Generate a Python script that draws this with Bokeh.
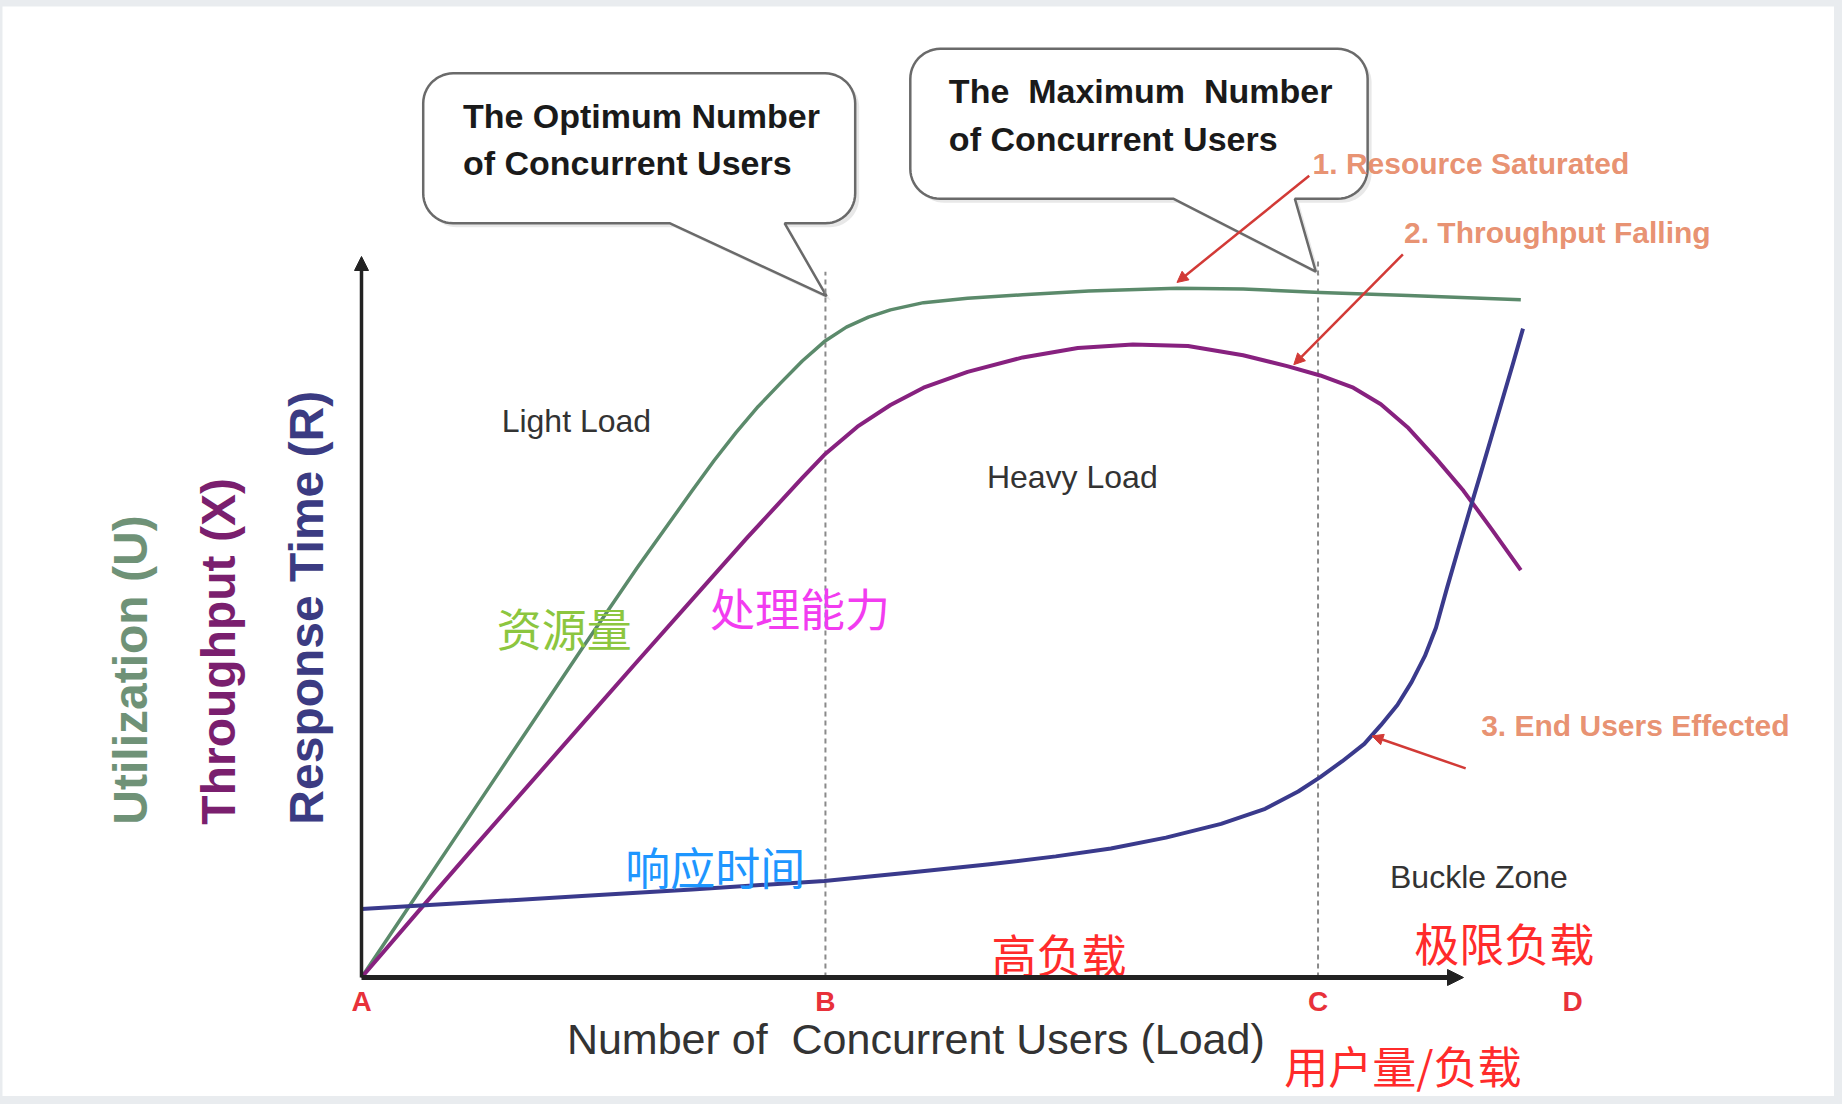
import numpy as np
from bokeh.plotting import figure
from bokeh.models import Range1d, Arrow, NormalHead
from bokeh.core.properties import value
from bokeh.embed import file_html
from bokeh.resources import INLINE

# ---------------- data (load in % of axis length, metric in % of axis height) ----------------
util_x = [0, 5, 10, 15, 20, 25, 30, 32, 34, 36, 38, 40, 42, 44, 46, 48, 51, 55, 60, 66, 74, 80,
          87, 95, 105.2]
util_y = [0, 11.4, 22.8, 34.2, 45.6, 56.8, 67.5, 71.7, 75.6, 79.2, 82.4, 85.5, 88.2, 90.2, 91.6,
          92.6, 93.6, 94.2, 94.7, 95.2, 95.6, 95.5, 95.0, 94.6, 94.0]

thr_x = [0, 5, 10, 15, 20, 25, 30, 35, 40, 42, 45, 48, 51, 55, 60, 65, 70, 75, 80, 84, 87, 90,
         92.5, 95, 97.5, 100, 102.5, 105.2]
thr_y = [0, 8.9, 17.7, 26.4, 35.1, 43.8, 52.4, 61.0, 69.3, 72.5, 76.4, 79.4, 81.8, 84.0, 86.0,
         87.3, 87.8, 87.6, 86.3, 84.8, 83.5, 81.8, 79.5, 76.2, 72.0, 67.5, 62.3, 56.5]

resp_x = [0, 10, 20, 30, 42, 50, 57, 63, 68, 73, 78, 82, 85, 87, 89, 91, 92.5, 94, 95.3, 96.5,
          97.5, 98.5, 99.5, 100.5, 101.5, 102.5, 103.5, 104.5, 105.4]
resp_y = [9.5, 10.4, 11.3, 12.2, 13.4, 14.6, 15.7, 16.8, 17.9, 19.4, 21.3, 23.4, 25.8, 27.8, 30.0,
          32.4, 35.0, 37.8, 41.0, 44.6, 48.5, 54.0, 59.3, 64.5, 69.6, 74.8, 80.0, 85.2, 90.0]

point_labels = ["A", "B", "C", "D"]
point_x = [0, 42.1, 86.8, 109.9]
marker_tops = [97.9, 99.8]          # dashed guides at B and C

axis_titles_y = ["Utilization (U)", "Throughput (X)", "Response Time (R)"]
axis_title_x = "Number of \u00a0Concurrent Users (Load)"

# ---------------- layout / style ----------------
W, H = 1834, 1096            # canvas incl. thin grey card edge at top/left
BT, BL = 6, 2                # grey edge (top, left)
FW, FH = W - BL, H - BT      # frame size
OX, OY = 359, 971            # origin inside the frame (from left / from top)
XU = (1461 - OX) / 100.0     # px per x unit
YU = (OY - 250) / 100.0      # px per y unit

GREEN, PURPLE, BLUE = "#5b8a6b", "#87217f", "#3a3a8c"
RED_ARROW, ORANGE, RED = "#d23a36", "#e5845f", "#ff2b2b"
FONT = "Liberation Sans"
CJK = "Noto Sans CJK SC"
EDGE = "#e9ecef"

p = figure(width=W, height=H, output_backend="svg", toolbar_location=None,
           x_range=Range1d(-OX / XU, (FW - OX) / XU),
           y_range=Range1d(-(FH - OY) / YU, OY / YU),
           x_axis_type=None, y_axis_type=None,
           min_border_top=BT, min_border_left=BL, min_border_right=0, min_border_bottom=0)
p.outline_line_color = None
p.background_fill_color = "white"
p.border_fill_color = EDGE


def callout(x0, x1, y0, y1, tl, tr, tip, r_px=30):
    rx, ry = r_px / XU, r_px / YU
    xs, ys = [], []
    corners = [(x0 + rx, y1 - ry, np.pi, np.pi / 2),
               (x1 - rx, y1 - ry, np.pi / 2, 0),
               (x1 - rx, y0 + ry, 0, -np.pi / 2)]
    for cx, cy, a0, a1 in corners:
        t = np.linspace(a0, a1, 14)
        xs += list(cx + rx * np.cos(t)); ys += list(cy + ry * np.sin(t))
    xs += [tr, tip[0], tl]; ys += [y0, tip[1], y0]
    t = np.linspace(-np.pi / 2, -np.pi, 14)
    xs += list(x0 + rx + rx * np.cos(t)); ys += list(y0 + ry + ry * np.sin(t))
    return xs, ys


callouts = [
    dict(box=(5.6, 44.8, 104.6, 125.4), tail=(28.0, 38.4), tip=(42.2, 94.5)),
    dict(box=(49.8, 91.3, 108.0, 128.8), tail=(73.7, 84.7), tip=(86.6, 97.9)),
]
for c in callouts:
    x0, x1, y0, y1 = c["box"]
    xs, ys = callout(x0, x1, y0, y1, c["tail"][0], c["tail"][1], c["tip"])
    sx, sy = 4 / XU, -4 / YU
    p.patch([v + sx for v in xs], [v + sy for v in ys], fill_color="#d9d9d9", fill_alpha=0.6,
            line_color=None)
    p.patch(xs, ys, fill_color="white", line_color="#6a6a6a", line_width=2.5)

# dashed guides at B and C
for bx, top in zip(point_x[1:3], marker_tops):
    p.line([bx, bx], [0, top], line_color="#8a8a8a", line_width=2, line_dash="5 4")

# axes with arrow heads
p.add_layout(Arrow(end=NormalHead(size=14, fill_color="#222222", line_color="#222222"),
                   x_start=0, y_start=0, x_end=0, y_end=100, line_width=3.5, line_color="#222222"))
p.add_layout(Arrow(end=NormalHead(size=16, fill_color="#222222", line_color="#222222"),
                   x_start=0, y_start=0, x_end=100, y_end=0, line_width=5, line_color="#222222"))

# curves
p.line(util_x, util_y, line_color=GREEN, line_width=3.5, line_join="round")
p.line(thr_x, thr_y, line_color=PURPLE, line_width=4, line_join="round")
p.line(resp_x, resp_y, line_color=BLUE, line_width=4, line_join="round")

# callout texts
p.text(x=[9.2, 9.2, 53.3, 53.3], y=[119.5, 112.9, 123.0, 116.3],
       text=["The Optimum Number", "of Concurrent Users",
             "The \u00a0Maximum \u00a0Number", "of Concurrent Users"],
       text_font=value(FONT), text_font_style="bold", text_font_size="34px",
       text_color="#1a1a1a", text_align="left", text_baseline="middle")

# orange annotations + red arrows
p.text(x=[86.3, 94.6, 101.6], y=[112.9, 103.3, 34.9],
       text=["1. Resource Saturated", "2. Throughput Falling", "3. End Users Effected"],
       text_font=value(FONT), text_font_style="bold", text_font_size="30px",
       text_color=ORANGE, text_alpha=0.9, text_align="left", text_baseline="middle")
for xs_, ys_, xe, ye in [(86.0, 111.2, 74.0, 96.4), (94.5, 100.3, 84.6, 85.0), (100.2, 29.0, 91.7, 33.5)]:
    p.add_layout(Arrow(end=NormalHead(size=11, fill_color=RED_ARROW, line_color=RED_ARROW),
                       x_start=xs_, y_start=ys_, x_end=xe, y_end=ye,
                       line_color=RED_ARROW, line_width=2.5))

# zone labels
p.text(x=[19.5, 64.5, 101.4], y=[77.2, 69.4, 14.0], text=["Light Load", "Heavy Load", "Buckle Zone"],
       text_font=value(FONT), text_font_size="32px", text_color="#333333",
       text_align="center", text_baseline="middle")

# Chinese labels
cjk = [("资源量", 18.4, 48.5, "#8cc63f", 45), ("处理能力", 39.8, 51.3, "#f23cf0", 45),
       ("响应时间", 32.1, 15.4, "#1e96ff", 45), ("高负载", 63.3, 3.3, RED, 45),
       ("极限负载", 103.7, 4.9, RED, 45), ("用户量/负载", 94.5, -12.1, RED, 44)]
for t, x, y, col, fs in cjk:
    p.text(x=[x], y=[y], text=[t], text_font=value(CJK), text_font_size="%dpx" % fs,
           text_color=col, text_align="center", text_baseline="middle")

# point letters
p.text(x=point_x, y=[-3.35] * 4, text=point_labels, text_font=value(FONT), text_font_style="bold",
       text_font_size="28px", text_color="#e8313a", text_align="center", text_baseline="middle")

# axis titles
p.text(x=[50.3], y=[-8.5], text=[axis_title_x], text_font=value(FONT), text_font_size="43px",
       text_color="#333333", text_align="center", text_baseline="middle")
p.text(x=[-21.0, -13.0, -5.0], y=[21.2] * 3, text=axis_titles_y, angle=np.pi / 2,
       text_font=value(FONT), text_font_style="bold", text_font_size="48px",
       text_color=["#6f9277", "#7a1f6e", "#3b3b82"], text_align="left", text_baseline="middle")

html = file_html(p, INLINE)
html = html.replace("</head>",
                    "<style>html,body{margin:0;padding:0;background:%s;overflow:hidden;}</style></head>" % EDGE, 1)
open("out.html", "w").write(html)
